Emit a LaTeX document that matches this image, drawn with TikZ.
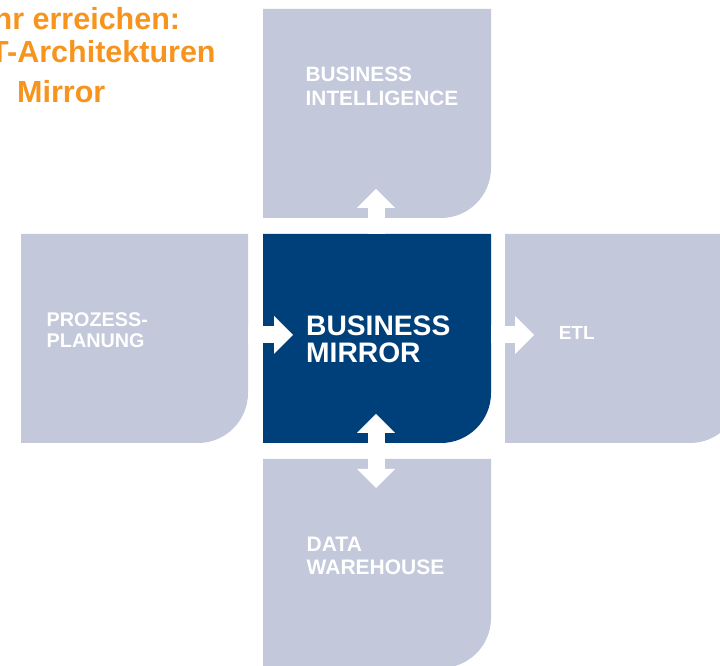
\documentclass[tikz,border=0pt]{standalone}
\usepackage{fontspec}
\setmainfont{Liberation Sans}
\usetikzlibrary{arrows.meta}
\definecolor{boxgray}{HTML}{C3C8DB}
\definecolor{mirblue}{HTML}{00407A}
\definecolor{titleorange}{HTML}{F7941D}
\newcommand{\cornerbox}[2]{\fill[#2] (#1.north west) -- (#1.north east) -- ([yshift=50pt]#1.south east) arc[start angle=0,end angle=-90,radius=50pt] -- (#1.south west) -- cycle;}
\begin{document}
\begin{tikzpicture}[x=1pt,y=1pt,
  boxnode/.style={inner sep=0pt, outer sep=0pt, anchor=north west, minimum height=209pt},
  lbl/.style={inner sep=0pt, anchor=base west, text=white, align=left},
  titletext/.style={inner sep=0pt, anchor=base west, text=titleorange, font=\bfseries\fontsize{30.5}{33}\selectfont},
  tipshape/.tip={Triangle[width=38pt,length=19pt,line width=0pt]},
  blockarrow/.style={draw=white, line width=17pt}
]
\clip (0,0) rectangle (720,666);
\fill[white] (0,0) rectangle (720,666);
% boxes
\node[boxnode, minimum width=228pt] (bi) at (263,657) {};
\node[boxnode, minimum width=228pt] (mir) at (263,432) {};
\node[boxnode, minimum width=227pt] (pp) at (21,432) {};
\node[boxnode, minimum width=235pt] (etl) at (505,432) {};
\node[boxnode, minimum width=228pt] (dw) at (263,207) {};
\cornerbox{bi}{boxgray}
\cornerbox{pp}{boxgray}
\cornerbox{etl}{boxgray}
\cornerbox{dw}{boxgray}
\cornerbox{mir}{mirblue}
% title
\node[titletext] (t1) at (-6.5,636) {hr erreichen:};
\node[titletext] (t2) at (-10,603) {T-Architekturen};
\node[titletext] (t3) at (17,563) {Mirror};
% labels (base anchor = baseline of the last line)
\node[lbl, font=\bfseries\fontsize{20.8}{24}\selectfont] (biL) at (305.5,560) {BUSINESS\\INTELLIGENCE};
\node[lbl, font=\bfseries\fontsize{28.2}{27}\selectfont] (mirL) at (306,303) {BUSINESS\\MIRROR};
\node[lbl, font=\bfseries\fontsize{19.8}{21.6}\selectfont] (ppL) at (46.5,318) {PROZESS-\\PLANUNG};
\node[lbl, font=\bfseries\fontsize{19}{22}\selectfont] (etlL) at (558.6,326) {ETL};
\node[lbl, font=\bfseries\fontsize{21}{23}\selectfont] (dwL) at (306.5,91) {DATA\\WAREHOUSE};
% arrows
\coordinate (upFrom) at ([xshift=-1pt]mir.north);
\coordinate (upTip) at ([yshift=45pt]upFrom);
\draw[blockarrow, -tipshape] (upFrom) -- (upTip);
\coordinate (ppFrom) at ([yshift=3.5pt]pp.east);
\coordinate (ppTip) at ([xshift=45pt]ppFrom);
\draw[blockarrow, -tipshape] (ppFrom) -- (ppTip);
\coordinate (mirFrom) at ([yshift=3.5pt]mir.east);
\coordinate (etlTip) at ([xshift=43pt]mirFrom);
\draw[blockarrow, -tipshape] (mirFrom) -- (etlTip);
\coordinate (mirTip) at ([xshift=-1pt,yshift=29pt]mir.south);
\coordinate (dwTip) at ([xshift=-1pt,yshift=-29pt]dw.north);
\draw[blockarrow, tipshape-tipshape] (dwTip) -- (mirTip);
\end{tikzpicture}
\end{document}
